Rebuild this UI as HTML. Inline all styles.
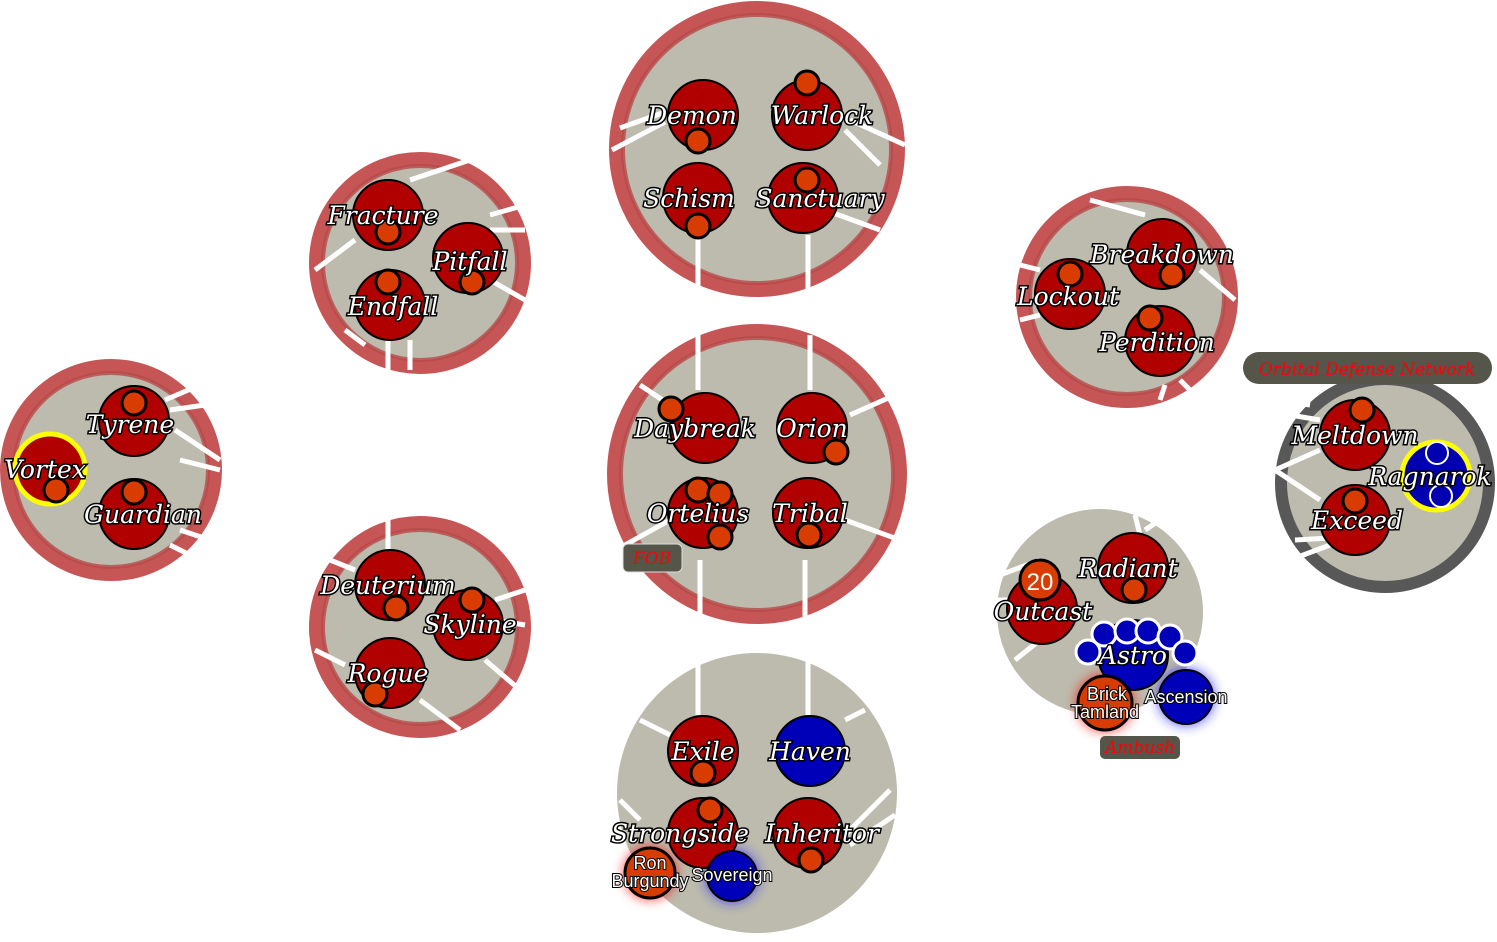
<!DOCTYPE html>
<html><head><meta charset="utf-8"><style>
html,body{margin:0;padding:0;background:#fff;}
svg{display:block}
.l{font-family:"DejaVu Serif","Liberation Serif",serif;font-style:italic;font-size:25px;fill:#fff;stroke:#000;stroke-width:3;paint-order:stroke;text-anchor:middle;}
.s{font-family:"Liberation Sans",sans-serif;font-size:18px;fill:#fff;stroke:#000;stroke-width:2;paint-order:stroke;text-anchor:middle;}
.tag{font-family:"DejaVu Serif","Liberation Serif",serif;font-style:italic;font-size:17px;fill:#f00;text-anchor:middle;}
.n{fill:#b00000;stroke:#000;stroke-width:2}
.o{fill:#d83c00;stroke:#000;stroke-width:3}
.b{fill:#0000b8;stroke:#000;stroke-width:2}
.w{stroke:#fff;stroke-width:5;fill:none}
.rg{fill:#bcbbad;stroke:#c65656;stroke-width:14}
.ri{fill:none;stroke:#b84848;stroke-width:4;opacity:.8}
</style></head><body>
<svg width="1497" height="942" viewBox="0 0 1497 942" xmlns="http://www.w3.org/2000/svg">
<defs>
<filter id="gr" x="-1" y="-1" width="3" height="3"><feGaussianBlur stdDeviation="6"/></filter>
</defs>
<g>
<circle class="rg" cx="757" cy="149" r="141"/><circle class="ri" cx="757" cy="149" r="134"/>
<circle class="rg" cx="757" cy="474" r="143"/><circle class="ri" cx="757" cy="474" r="136"/>
<circle cx="757" cy="793" r="140" fill="#bcbbad"/>
<circle class="rg" cx="420" cy="263" r="104"/><circle class="ri" cx="420" cy="263" r="97"/>
<circle class="rg" cx="420" cy="627" r="104"/><circle class="ri" cx="420" cy="627" r="97"/>
<circle class="rg" cx="111" cy="470" r="104"/><circle class="ri" cx="111" cy="470" r="97"/>
<circle class="rg" cx="1127" cy="297" r="104"/><circle class="ri" cx="1127" cy="297" r="97"/>
<circle cx="1100" cy="612" r="103" fill="#bcbbad"/>
<circle cx="1385" cy="483" r="104" fill="#bcbbad" stroke="#585858" stroke-width="12"/>
</g>
<g class="w">
<path d="M698 235V295M808 235V292M612 150L665 122M620 128L665 112M850 120L905 145M845 130L880 165M825 210L880 230"/>
<path d="M698 330V390M810 335V390M640 385L670 405M850 415L895 395M845 520L900 540M700 560V620M805 560V620M625 545L670 520"/>
<path d="M698 660V715M808 660V715M640 720L670 735M845 720L865 710M840 840L890 790M850 845L895 815M620 800L640 820"/>
<path d="M410 180L470 160M490 215L525 205M490 230L525 230M490 280L525 300M315 270L355 240M345 330L365 345M340 350L360 360M388 340V370M410 340V370"/>
<path d="M388 520V550M330 560L355 570M495 600L525 590M495 620L525 625M485 660L520 690M315 650L345 665M420 700L460 730"/>
<path d="M165 400L200 385M170 410L205 405M175 430L220 460M180 460L220 470M180 530L210 540M170 545L200 560"/>
<path d="M1090 200L1145 215M1200 270L1235 300M1020 265L1040 270M1020 320L1040 315M1165 385L1160 400M1180 380L1190 390"/>
<path d="M1135 515L1140 535M1145 530L1160 520M1040 560L1000 575M1015 660L1040 640M1010 600L995 600"/>
<path d="M1280 400L1310 405M1290 415L1320 420M1275 470L1320 450M1275 470L1320 500M1295 540L1330 538M1290 560L1330 545"/>
</g>
<circle cx="650" cy="873" r="26" fill="#f00" opacity=".8" filter="url(#gr)"/>
<circle cx="732" cy="876" r="26" fill="#22f" opacity=".8" filter="url(#gr)"/>
<circle cx="1105" cy="703" r="28" fill="#f00" opacity=".8" filter="url(#gr)"/>
<circle cx="1186" cy="697" r="28" fill="#22f" opacity=".8" filter="url(#gr)"/>
<g>
<circle class="n" cx="703" cy="115" r="35"/><circle class="o" cx="698" cy="141" r="12"/>
<circle class="n" cx="807" cy="115" r="35"/><circle class="o" cx="807" cy="83" r="12"/>
<circle class="n" cx="698" cy="198" r="35"/><circle class="o" cx="698" cy="226" r="12"/>
<circle class="n" cx="803" cy="198" r="35"/><circle class="o" cx="807" cy="180" r="12"/>

<circle class="n" cx="705" cy="428" r="35"/><circle class="o" cx="671" cy="409" r="12"/>
<circle class="n" cx="812" cy="428" r="35"/><circle class="o" cx="836" cy="452" r="12"/>
<circle class="n" cx="703" cy="513" r="35"/><circle class="o" cx="698" cy="490" r="12"/><circle class="o" cx="720" cy="494" r="12"/><circle class="o" cx="720" cy="537" r="12"/>
<circle class="n" cx="808" cy="513" r="35"/><circle class="o" cx="809" cy="535" r="12"/>

<circle class="n" cx="703" cy="751" r="35"/><circle class="o" cx="703" cy="773" r="12"/>
<circle class="b" cx="810" cy="751" r="35"/>
<circle class="n" cx="703" cy="833" r="35"/><circle class="o" cx="710" cy="810" r="12"/>
<circle class="n" cx="808" cy="833" r="35"/><circle class="o" cx="811" cy="860" r="12"/>
<circle class="o" cx="650" cy="873" r="25"/><circle class="b" cx="732" cy="876" r="25" stroke-width="3"/>

<circle class="n" cx="388" cy="215" r="35"/><circle class="o" cx="388" cy="232" r="12"/>
<circle class="n" cx="468" cy="258" r="35"/><circle class="o" cx="472" cy="282" r="12"/>
<circle class="n" cx="390" cy="305" r="35"/><circle class="o" cx="388" cy="282" r="12"/>

<circle class="n" cx="390" cy="585" r="35"/><circle class="o" cx="396" cy="608" r="12"/>
<circle class="n" cx="468" cy="625" r="35"/><circle class="o" cx="472" cy="600" r="12"/>
<circle class="n" cx="390" cy="673" r="35"/><circle class="o" cx="375" cy="694" r="12"/>

<circle class="n" cx="134" cy="421" r="35"/><circle class="o" cx="134" cy="403" r="12"/>
<circle cx="50" cy="469" r="35" fill="#b00000" stroke="#ff0" stroke-width="5"/><circle class="o" cx="56" cy="490" r="12"/>
<circle class="n" cx="134" cy="514" r="35"/><circle class="o" cx="134" cy="492" r="12"/>

<circle class="n" cx="1162" cy="254" r="35"/><circle class="o" cx="1172" cy="275" r="12"/>
<circle class="n" cx="1070" cy="294" r="35"/><circle class="o" cx="1070" cy="274" r="12"/>
<circle class="n" cx="1160" cy="341" r="35"/><circle class="o" cx="1150" cy="318" r="12"/>

<circle class="n" cx="1042" cy="609" r="35"/><circle class="o" cx="1040" cy="580" r="20"/>
<circle class="n" cx="1133" cy="568" r="35"/><circle class="o" cx="1134" cy="590" r="12"/>
<circle class="b" cx="1133" cy="655" r="35"/>
<g fill="#0000b8" stroke="#fff" stroke-width="3">
<circle cx="1088" cy="652" r="12"/><circle cx="1104" cy="634" r="12"/><circle cx="1127" cy="631" r="12"/><circle cx="1148" cy="631" r="12"/><circle cx="1170" cy="637" r="12"/><circle cx="1185" cy="653" r="12"/>
</g>
<circle class="o" cx="1105" cy="703" r="27"/><circle class="b" cx="1186" cy="697" r="27" stroke-width="3"/>

<circle class="n" cx="1355" cy="435" r="35"/><circle class="o" cx="1362" cy="410" r="12"/>
<circle class="n" cx="1355" cy="520" r="35"/><circle class="o" cx="1355" cy="501" r="12"/>
<circle cx="1436" cy="476" r="34" fill="#0000b0" stroke="#ff0" stroke-width="5"/>
<circle cx="1437" cy="453" r="11" fill="#0000b0" stroke="#fff" stroke-width="2"/>
<circle cx="1441" cy="496" r="11" fill="#0000b0" stroke="#fff" stroke-width="2"/>
</g>
<g class="l">
<text x="692" y="124">Demon</text><text x="822" y="124">Warlock</text>
<text x="689" y="207">Schism</text><text x="820" y="207">Sanctuary</text>
<text x="695" y="437">Daybreak</text><text x="812" y="437">Orion</text>
<text x="698" y="522">Ortelius</text><text x="810" y="522">Tribal</text>
<text x="703" y="760">Exile</text><text x="810" y="760">Haven</text>
<text x="680" y="842">Strongside</text><text x="822" y="842">Inheritor</text>
<text x="383" y="224">Fracture</text><text x="470" y="270">Pitfall</text><text x="393" y="315">Endfall</text>
<text x="388" y="594">Deuterium</text><text x="470" y="633">Skyline</text><text x="388" y="682">Rogue</text>
<text x="130" y="433">Tyrene</text><text x="45" y="478">Vortex</text><text x="143" y="523">Guardian</text>
<text x="1162" y="263">Breakdown</text><text x="1068" y="305">Lockout</text><text x="1157" y="351">Perdition</text>
<text x="1043" y="620">Outcast</text><text x="1128" y="577">Radiant</text><text x="1133" y="664">Astro</text>
<text x="1355" y="444">Meltdown</text><text x="1430" y="485">Ragnarok</text><text x="1357" y="529">Exceed</text>
</g>
<text x="1040" y="590" font-family="Liberation Sans,sans-serif" font-size="24" fill="#fff" text-anchor="middle">20</text>
<g class="s">
<text x="650" y="869">Ron</text><text x="650" y="887">Burgundy</text>
<text x="732" y="881">Sovereign</text>
<text x="1107" y="700">Brick</text><text x="1105" y="718">Tamland</text>
<text x="1186" y="703">Ascension</text>
</g>
<rect x="623" y="544" width="59" height="28" rx="5" fill="#55554a" stroke="#ddd" stroke-width="1"/>
<text class="tag" x="652" y="564">FOB</text>
<rect x="1100" y="736" width="80" height="23" rx="5" fill="#55554a"/>
<text class="tag" x="1140" y="753">Ambush</text>
<rect x="1243" y="352" width="249" height="32" rx="16" fill="#55554a"/>
<text class="tag" x="1367" y="375" font-size="19">Orbital Defense Network</text>
</svg>
</body></html>
